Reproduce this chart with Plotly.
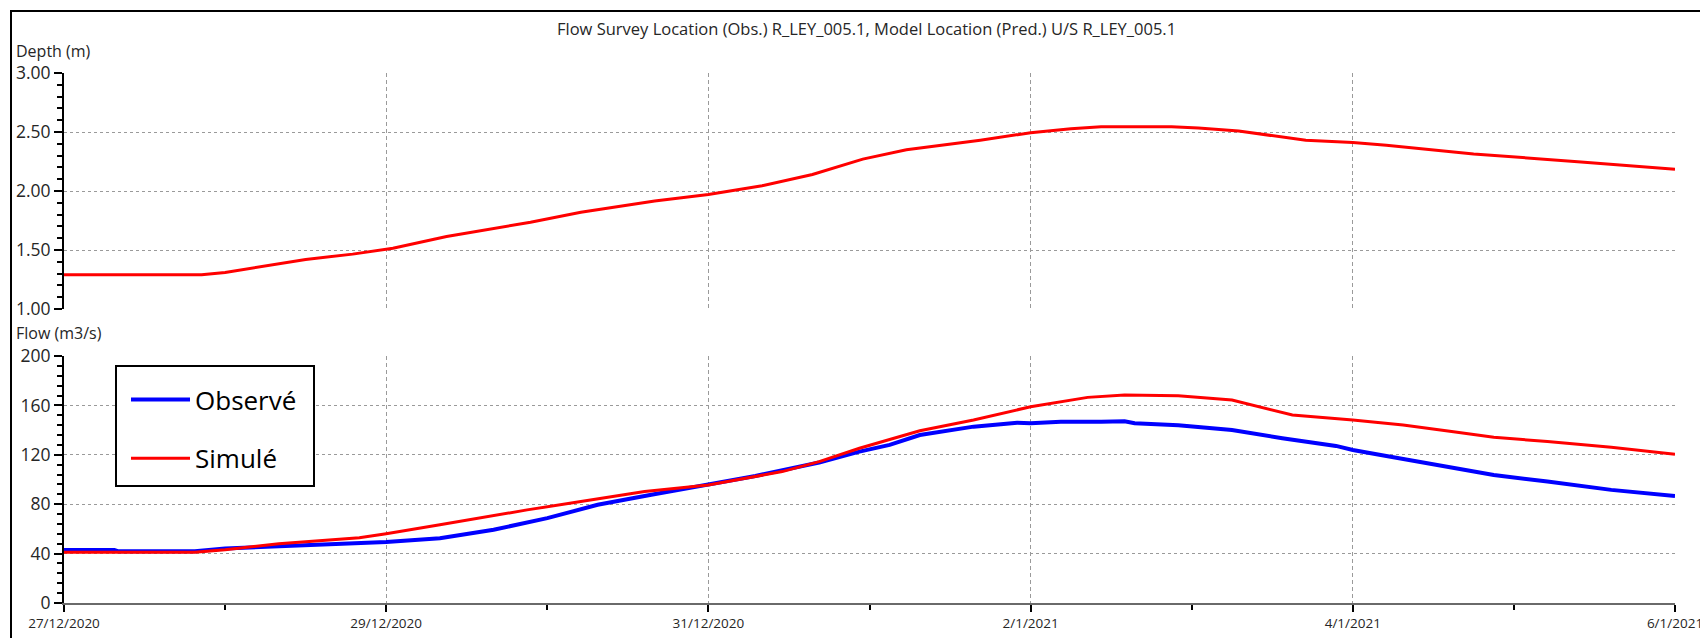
import plotly.graph_objects as go

# Depth at the model location (m)
depth_time = [
    "2020-12-27 00:00", "2020-12-27 20:30", "2020-12-28 00:00", "2020-12-28 12:00",
    "2020-12-28 19:00", "2020-12-29 01:00", "2020-12-29 09:00", "2020-12-29 13:30",
    "2020-12-29 21:30", "2020-12-30 05:00", "2020-12-30 16:00", "2020-12-31 00:00",
    "2020-12-31 08:00", "2020-12-31 15:30", "2020-12-31 23:00", "2021-01-01 05:30",
    "2021-01-01 16:30", "2021-01-02 00:00", "2021-01-02 06:00", "2021-01-02 10:30",
    "2021-01-02 21:00", "2021-01-03 01:00", "2021-01-03 07:00", "2021-01-03 17:00",
    "2021-01-04 00:00", "2021-01-04 05:00", "2021-01-04 18:00", "2021-01-05 10:00",
    "2021-01-06 00:00",
]
depth_sim = [
    1.29, 1.29, 1.31, 1.42,
    1.465, 1.515, 1.615, 1.66,
    1.735, 1.82, 1.915, 1.97,
    2.045, 2.14, 2.27, 2.35,
    2.43, 2.494, 2.528, 2.545,
    2.545, 2.534, 2.508, 2.43,
    2.41, 2.387, 2.314, 2.246,
    2.184,
]

# Observed flow (m3/s)
obs_time = [
    "2020-12-27 00:00", "2020-12-27 07:30", "2020-12-27 08:00", "2020-12-27 19:30",
    "2020-12-28 00:00", "2020-12-28 08:00", "2020-12-28 16:00", "2020-12-29 00:00",
    "2020-12-29 08:00", "2020-12-29 16:00", "2020-12-30 00:00", "2020-12-30 07:30",
    "2020-12-30 15:30", "2020-12-31 00:00", "2020-12-31 07:00", "2020-12-31 16:30",
    "2020-12-31 22:30", "2021-01-01 03:00", "2021-01-01 07:30", "2021-01-01 15:30",
    "2021-01-01 22:00", "2021-01-02 00:00", "2021-01-02 04:30", "2021-01-02 10:30",
    "2021-01-02 14:00", "2021-01-02 15:30", "2021-01-02 22:00", "2021-01-03 06:00",
    "2021-01-03 13:30", "2021-01-03 21:30", "2021-01-04 00:00", "2021-01-04 05:00",
    "2021-01-04 13:00", "2021-01-04 21:00", "2021-01-05 05:00", "2021-01-05 14:30",
    "2021-01-06 00:00",
]
obs_flow = [
    43.0, 43.0, 42.0, 42.0,
    44.2, 45.8, 47.1, 49.3,
    52.5, 59.3, 68.7, 79.5,
    87.6, 96.4, 102.9, 113.7,
    122.6, 128.0, 136.0, 142.8,
    146.0, 145.5, 146.8, 146.8,
    147.1, 145.5, 143.9, 140.1,
    133.4, 127.2, 123.9, 119.1,
    111.8, 103.7, 98.3, 91.6,
    86.7,
]

# Simulated flow (m3/s)
sim_time = [
    "2020-12-27 00:00", "2020-12-27 19:30", "2020-12-28 00:00", "2020-12-28 08:00",
    "2020-12-28 20:00", "2020-12-29 00:00", "2020-12-29 08:00", "2020-12-29 21:00",
    "2020-12-30 05:00", "2020-12-30 14:30", "2020-12-31 00:00", "2020-12-31 07:00",
    "2020-12-31 11:00", "2020-12-31 16:30", "2020-12-31 22:30", "2021-01-01 07:30",
    "2021-01-01 15:30", "2021-01-02 00:00", "2021-01-02 08:30", "2021-01-02 14:00",
    "2021-01-02 22:00", "2021-01-03 06:00", "2021-01-03 15:00", "2021-01-04 00:00",
    "2021-01-04 07:30", "2021-01-04 15:00", "2021-01-04 21:00", "2021-01-05 05:00",
    "2021-01-05 14:30", "2021-01-06 00:00",
]
sim_flow = [
    41.0, 41.0, 43.1, 47.9,
    52.8, 56.0, 63.3, 75.4,
    82.2, 90.2, 95.6, 102.4,
    106.4, 114.5, 125.3, 139.5,
    148.2, 158.9, 166.5, 168.4,
    167.8, 164.3, 152.2, 148.2,
    144.1, 138.7, 134.2, 130.7,
    126.1, 120.4,
]

# Date axis labels
x_tick_vals = ["2020-12-27", "2020-12-29", "2020-12-31", "2021-01-02", "2021-01-04", "2021-01-06"]
x_tick_text = ["27/12/2020", "29/12/2020", "31/12/2020", "2/1/2021", "4/1/2021", "6/1/2021"]
x_minor_vals = ["2020-12-28", "2020-12-30", "2021-01-01", "2021-01-03", "2021-01-05"]

W, H = 1700, 638
FONT = "Open Sans"
TXT = "#262626"
GRID = "#9a9a9a"

def px_x(p):
    return p / W

def px_y(p):
    return 1 - p / H

fig = go.Figure()

fig.add_trace(go.Scatter(
    x=depth_time, y=depth_sim, mode="lines", name="Simulé",
    line=dict(color="#FF0000", width=3), showlegend=False,
    xaxis="x", yaxis="y",
))
fig.add_trace(go.Scatter(
    x=obs_time, y=obs_flow, mode="lines", name="Observé", legendgroup="obs",
    line=dict(color="#0000FF", width=4), xaxis="x2", yaxis="y2",
))
fig.add_trace(go.Scatter(
    x=sim_time, y=sim_flow, mode="lines", name="Simulé", legendgroup="sim",
    line=dict(color="#FF0000", width=3), xaxis="x2", yaxis="y2",
))

x_dom = [px_x(64), px_x(1675)]
x_range = ["2020-12-27", "2021-01-06"]

common_x = dict(
    type="date", range=x_range, domain=x_dom,
    tickmode="array", tickvals=x_tick_vals,
    showgrid=True, gridcolor=GRID, gridwidth=1, griddash="4px,3px",
    zeroline=False, automargin=False,
)

fig.update_layout(
    width=W, height=H,
    margin=dict(l=0, r=0, t=0, b=0),
    paper_bgcolor="white", plot_bgcolor="white",
    font=dict(family=FONT, color=TXT),
    xaxis=dict(
        **common_x, anchor="y", matches="x2",
        showticklabels=False, ticks="", showline=False,
    ),
    yaxis=dict(
        domain=[px_y(309), px_y(73)], range=[1, 3], anchor="x",
        tickmode="linear", tick0=1, dtick=0.5, tickformat=".2f",
        ticks="outside", ticklen=8, tickwidth=2, tickcolor="#000000",
        minor=dict(dtick=0.1, tick0=1, ticks="outside", ticklen=5, tickwidth=1.5,
                   tickcolor="#000000", showgrid=False),
        showline=True, linecolor="#000000", linewidth=2,
        showgrid=True, gridcolor=GRID, gridwidth=1, griddash="3px,3px",
        zeroline=False, tickfont=dict(size=17.5, color=TXT), automargin=False,
    ),
    xaxis2=dict(
        **common_x, anchor="y2",
        ticktext=x_tick_text, ticklabeloverflow="allow",
        ticks="outside", ticklen=7, tickwidth=2, tickcolor="#000000",
        minor=dict(tickmode="array", tickvals=x_minor_vals, ticks="outside",
                   ticklen=5, tickwidth=1.5, tickcolor="#000000", showgrid=False),
        showline=True, linecolor="#6a6a6a", linewidth=2,
        tickfont=dict(size=13.5, color=TXT),
    ),
    yaxis2=dict(
        domain=[px_y(603), px_y(356)], range=[0, 200], anchor="x2",
        tickmode="linear", tick0=0, dtick=40,
        ticks="outside", ticklen=8, tickwidth=2, tickcolor="#000000",
        minor=dict(dtick=8, tick0=0, ticks="outside", ticklen=5, tickwidth=1.5,
                   tickcolor="#000000", showgrid=False),
        showline=True, linecolor="#000000", linewidth=2,
        showgrid=True, gridcolor=GRID, gridwidth=1, griddash="3px,3px",
        zeroline=False, tickfont=dict(size=17.5, color=TXT), automargin=False,
    ),
    legend=dict(
        x=px_x(116), y=px_y(376), xanchor="left", yanchor="top",
        bgcolor="rgba(0,0,0,0)", borderwidth=0,
        font=dict(size=26, color="#000000", family=FONT),
        tracegroupgap=22, itemwidth=59, indentation=10,
    ),
    showlegend=True,
)

# Legend frame
fig.add_shape(
    type="rect", xref="paper", yref="paper",
    x0=px_x(116), x1=px_x(314), y0=px_y(486), y1=px_y(366),
    line=dict(color="#000000", width=2), fillcolor="white", layer="above",
)

# Chart title and panel labels
fig.add_annotation(
    text="Flow Survey Location (Obs.) R_LEY_005.1, Model Location (Pred.) U/S R_LEY_005.1",
    x=px_x(866), y=px_y(28), xref="paper", yref="paper",
    xanchor="center", yanchor="middle", showarrow=False,
    font=dict(size=16.5, color=TXT, family=FONT),
)
fig.add_annotation(
    text="Depth (m)", x=px_x(14), y=px_y(51), xref="paper", yref="paper",
    xanchor="left", yanchor="middle", showarrow=False,
    font=dict(size=16, color=TXT, family=FONT),
)
fig.add_annotation(
    text="Flow (m3/s)", x=px_x(14), y=px_y(333), xref="paper", yref="paper",
    xanchor="left", yanchor="middle", showarrow=False,
    font=dict(size=16, color=TXT, family=FONT),
)

# Outer frame
fig.add_shape(
    type="rect", xref="paper", yref="paper",
    x0=px_x(11), x1=1.2, y0=-0.2, y1=px_y(11),
    line=dict(color="#000000", width=2), fillcolor="rgba(0,0,0,0)", layer="above",
)

fig.write_html("out.html")
